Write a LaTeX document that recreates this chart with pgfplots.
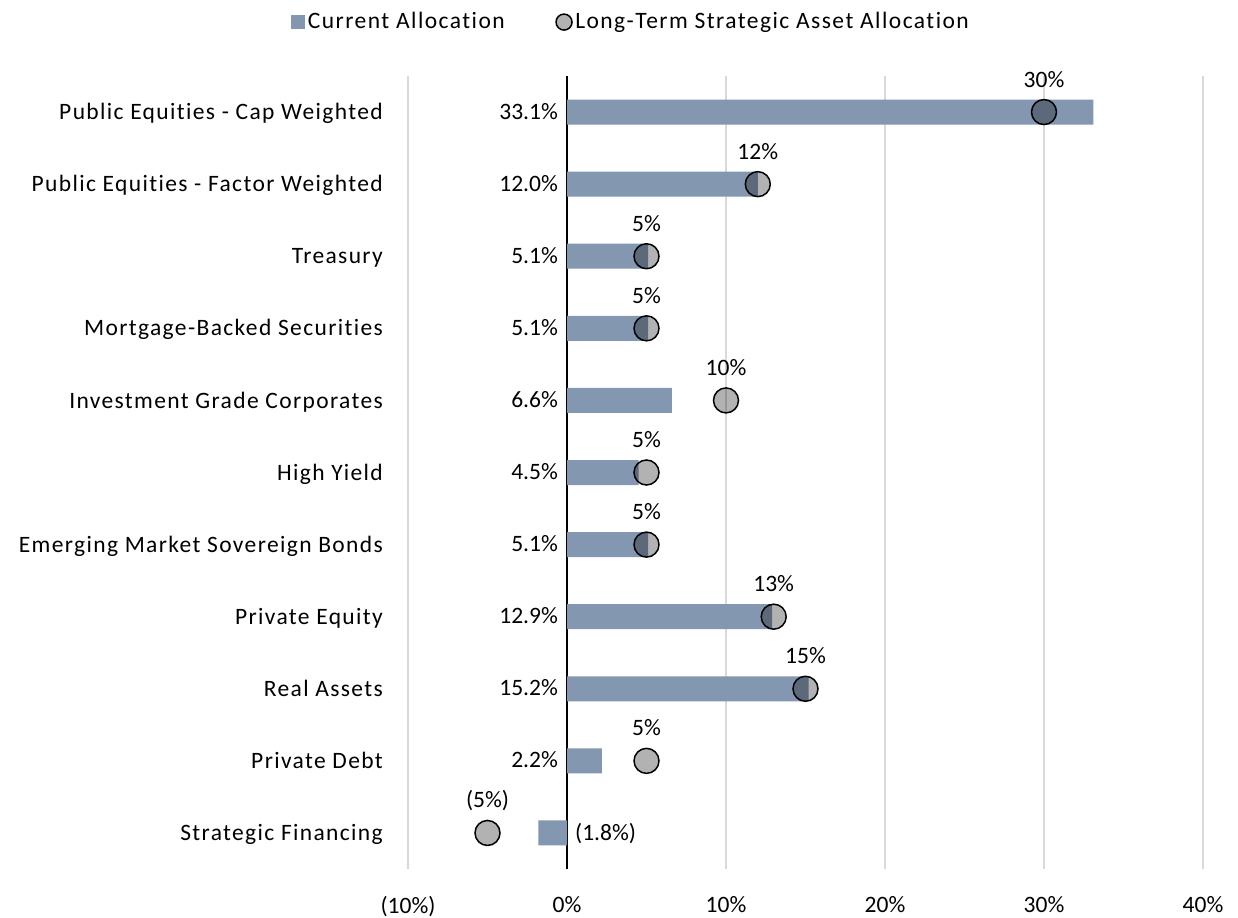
\documentclass[border=0pt]{standalone}
\usepackage{pgfplots}
\pgfplotsset{compat=1.18}
\usepackage{pgfplotstable}
\usepackage{fontspec}
\setmainfont{Carlito}[Ligatures={NoCommon}]
\newfontfamily\catfont{Carlito}[Ligatures={NoCommon}, LetterSpace=5.8]
\newfontfamily\legfont{Carlito}[Ligatures={NoCommon}, LetterSpace=6.2]
\definecolor{barcol}{HTML}{8497B0}
\definecolor{gridcol}{HTML}{D9D9D9}
\pgfplotstableread{
idx cur curlab tgt tgtlab
0 33.1 33.1\% 30 30\%
1 12.0 12.0\% 12 12\%
2 5.1 5.1\% 5 5\%
3 5.1 5.1\% 5 5\%
4 6.6 6.6\% 10 10\%
5 4.5 4.5\% 5 5\%
6 5.1 5.1\% 5 5\%
7 12.9 12.9\% 13 13\%
8 15.2 15.2\% 15 15\%
9 2.2 2.2\% 5 5\%
10 -1.8 (1.8\%) -5 (5\%)
}\alloc
\begin{document}
\fontsize{23.5bp}{28bp}\selectfont
\begin{tikzpicture}
\useasboundingbox (0,0) rectangle (1238bp,918bp);
\begin{axis}[
  at={(408bp,49bp)}, anchor=south west,
  scale only axis, width=795bp, height=793bp,
  xmin=-10, xmax=40, ymin=-0.5, ymax=10.5, y dir=reverse,
  xtick={-10,10,20,30,40},
  xticklabels={(10\%),10\%,20\%,30\%,40\%},
  extra x ticks={0}, extra x tick labels={0\%},
  extra x tick style={grid=major, major grid style={black, line width=1.5bp}},
  xmajorgrids, major grid style={gridcol, line width=1.5bp},
  ytick={0,...,10},
  yticklabels={Public Equities - Cap Weighted, Public Equities - Factor Weighted, Treasury, Mortgage-Backed Securities, Investment Grade Corporates, High Yield, Emerging Market Sovereign Bonds, Private Equity, Real Assets, Private Debt, Strategic Financing},
  major tick length=0pt,
  axis line style={draw=none},
  tick style={draw=none},
  /pgf/number format/assume math mode=true,
  xticklabel style={anchor=north, inner sep=0pt, yshift=-27bp},
  yticklabel style={anchor=mid east, inner sep=0pt, xshift=-25bp, yshift=-2bp, font=\catfont},
  legend columns=2,
  legend style={at={(0.281,1.068)}, anchor=center, draw=none, fill=none,
    /tikz/every even column/.append style={column sep=48bp},
    nodes={inner sep=2.5bp, font=\legfont}},
  clip=false,
]
\addplot[xbar, bar shift=0pt, bar width=25bp, fill=barcol, draw=none,
  legend image code/.code={\fill[barcol] (0bp,-7bp) rectangle (14bp,7bp);}]
  table[x=cur, y=idx] {\alloc};
\addlegendentry{Current Allocation}
\addplot[only marks, mark=*, mark size=12.5bp,
  mark options={draw=black, line width=1.5bp, fill=black, fill opacity=0.3},
  nodes near coords, point meta=explicit symbolic,
  nodes near coords style={anchor=base, inner sep=0pt, yshift=25bp, fill opacity=1, text opacity=1},
  legend image code/.code={\draw[black, line width=1.5bp, fill=black, fill opacity=0.3] (8.5bp,0bp) circle (8bp);}]
  table[x=tgt, y=idx, meta=tgtlab] {\alloc};
\addlegendentry{Long-Term Strategic Asset Allocation}
\addplot[forget plot, draw=none, mark=none, nodes near coords, point meta=explicit symbolic,
  nodes near coords style={anchor=mid east, inner sep=0pt, xshift=-9bp, yshift=-1.5bp},
  skip coords between index={10}{11}]
  table[x expr=0, y=idx, meta=curlab] {\alloc};
\addplot[forget plot, draw=none, mark=none, nodes near coords, point meta=explicit symbolic,
  nodes near coords style={anchor=mid west, inner sep=0pt, xshift=8bp, yshift=-1.5bp},
  skip coords between index={0}{10}]
  table[x expr=0, y=idx, meta=curlab] {\alloc};
\end{axis}
\end{tikzpicture}
\end{document}
